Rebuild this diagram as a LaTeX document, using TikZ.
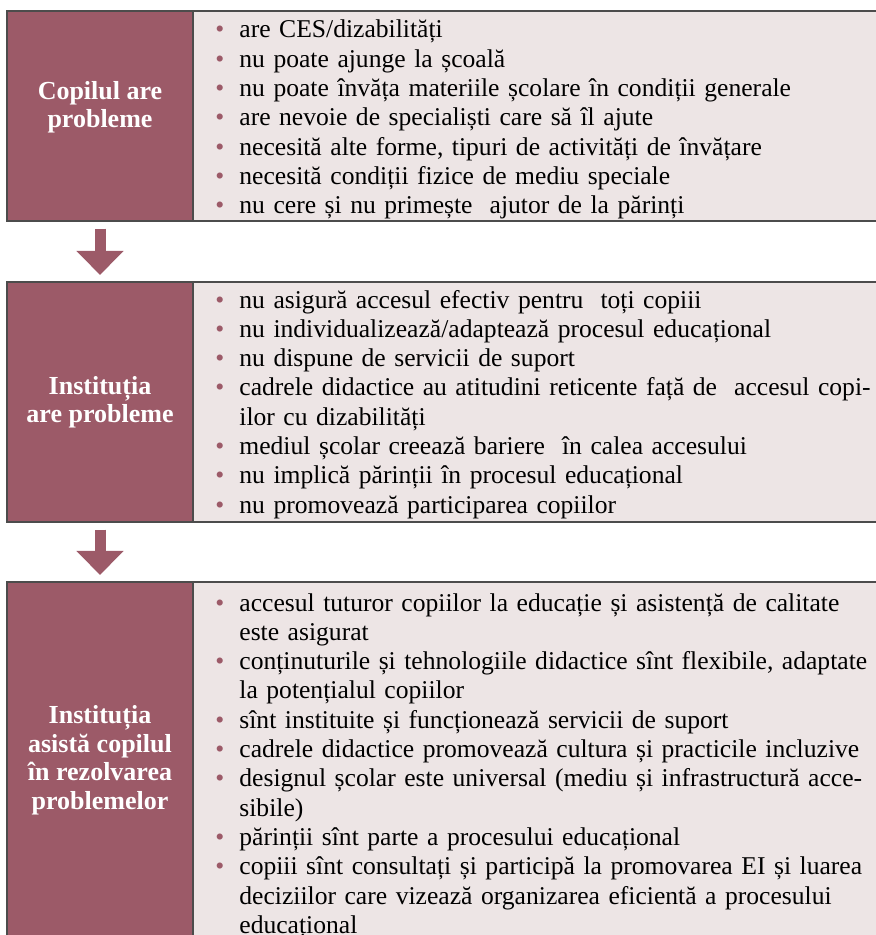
\documentclass[tikz,border=0pt]{standalone}
\usepackage{fontspec}
\setmainfont{Liberation Serif}
\usetikzlibrary{arrows.meta}

\definecolor{boxred}{RGB}{156,90,104}
\definecolor{boxgrey}{RGB}{237,229,229}

% one bullet line, later lines hang under the text
\newcommand{\bitem}[1]{\noindent\hangindent=12pt\hangafter=1%
  \makebox[12pt][l]{\textcolor{boxred}{\textbullet}}#1\par}

\begin{document}
\begin{tikzpicture}[x=0.5pt,y=-0.5pt,
   titlebox/.style={draw=black!70, line width=0.6pt, fill=boxred, text=white, inner sep=0pt,
     minimum width=93pt, align=center, font=\fontsize{13}{14.25}\selectfont\bfseries},
   listbox/.style={draw=black!70, line width=0.6pt, fill=boxgrey, inner sep=0pt, minimum width=343.5pt},
   listtext/.style={anchor=base west, inner sep=0pt, text width=345pt, align=left,
     font=\fontsize{12.8}{14.65}\selectfont},
   bigarrow/.style={boxred, line width=5.5pt, -{Triangle[width=23pt,length=12pt]},
     shorten <=3.5pt, shorten >=3.25pt}]
   \useasboundingbox (0,0) rectangle (876,935);

   % first row
   \node(L1)[listbox, minimum height=105pt] at (536.5,116) {};
   \node(T1)[titlebox, minimum height=105pt] at (100,116)
     {\raisebox{4pt}[\height][\depth]{\begin{tabular}{@{}c@{}}Copilul are\\probleme\end{tabular}}};
   \node(X1)[listtext] at (215,38) {%
     \bitem{are CES/dizabilități}%
     \bitem{nu poate ajunge la școală}%
     \bitem{nu poate învăța materiile școlare în condiții generale}%
     \bitem{are nevoie de specialiști care să îl ajute}%
     \bitem{necesită alte forme, tipuri de activități de învățare}%
     \bitem{necesită condiții fizice de mediu speciale}%
     \bitem{nu cere și nu primește\ \ ajutor de la părinți}};

   % second row
   \node(L2)[listbox, minimum height=120pt] at (536.5,402) {};
   \node(T2)[titlebox, minimum height=120pt] at (100,402) {Instituția\\are probleme};
   \node(X2)[listtext] at (215,308) {%
     \bitem{nu asigură accesul efectiv pentru\ \ toți copiii}%
     \bitem{nu individualizează/adaptează procesul educațional}%
     \bitem{nu dispune de servicii de suport}%
     \bitem{cadrele didactice au atitudini reticente față de\ \ accesul copi-\newline ilor cu dizabilități}%
     \bitem{mediul școlar creează bariere\ \ în calea accesului}%
     \bitem{nu implică părinții în procesul educațional}%
     \bitem{nu promovează participarea copiilor}};

   % third row, runs past the lower edge
   \node(L3)[listbox, minimum height=178pt] at (536.5,760) {};
   \node(T3)[titlebox, minimum height=178pt] at (100,760) {Instituția\\asistă copilul\\în rezolvarea\\problemelor};
   \node(X3)[listtext] at (215,611) {%
     \bitem{accesul tuturor copiilor la educație și asistență de calitate\newline este asigurat}%
     \bitem{conținuturile și tehnologiile didactice sînt flexibile, adaptate\newline la potențialul copiilor}%
     \bitem{sînt instituite și funcționează servicii de suport}%
     \bitem{cadrele didactice promovează cultura și practicile incluzive}%
     \bitem{designul școlar este universal (mediu și infrastructură acce-\newline sibile)}%
     \bitem{părinții sînt parte a procesului educațional}%
     \bitem{copiii sînt consultați și participă la promovarea EI și luarea\newline deciziilor care vizează organizarea eficientă a procesului\newline educațional}};

   \draw[bigarrow] (T1) -- (T2);
   \draw[bigarrow] (T2) -- (T3);
\end{tikzpicture}
\end{document}
